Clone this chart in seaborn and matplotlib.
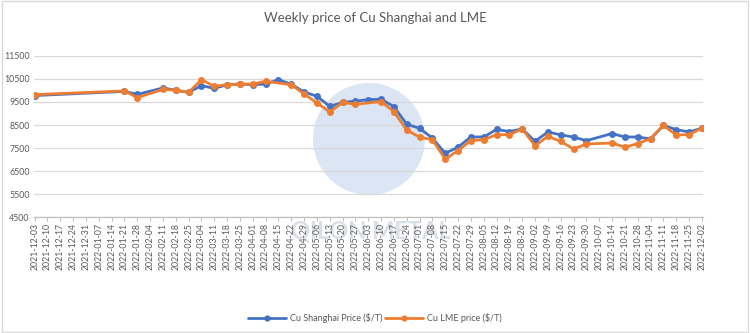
import numpy as np
import pandas as pd
import matplotlib
matplotlib.use("Agg")
import matplotlib.pyplot as plt
import seaborn as sns
from matplotlib.lines import Line2D
from matplotlib.patches import Rectangle, Circle

# ---- data ----
week_labels = list(pd.date_range("2021-12-03", "2022-12-02", freq="7D").strftime("%Y-%m-%d"))

shanghai = [9780, None, None, None, None, None, None, 9960, 9830, None,
            10110, 10010, 9920, 10210, 10090, 10250, 10280, 10250, 10280, 10470,
            10270, 9935, 9750, 9310, 9480, 9540, 9600, 9620, 9300, 8530,
            8360, 7930, 7270, 7540, 7985, 7980, 8310, 8215, 8330, 7790,
            8200, 8070, 7980, 7820, None, 8130, 7980, 7980, 7895, 8480,
            8300, 8200, 8360]

lme = [9820, None, None, None, None, None, None, 9980, 9690, None,
       10050, 10010, 9920, 10470, 10180, 10250, 10280, 10280, 10400, None,
       10250, 9850, 9460, 9065, 9480, 9400, None, 9520, 9080, 8280,
       7975, 7860, 7020, 7390, 7825, 7860, 8080, 8080, 8330, 7600,
       8010, 7790, 7460, 7675, None, 7720, 7540, 7690, 7910, 8480,
       8070, 8080, 8360]

series_names = ["Cu Shanghai Price ($/T)", "Cu LME price ($/T)"]
colors = ["#4472C4", "#ED7D31"]
y_ticks = [4500, 5500, 6500, 7500, 8500, 9500, 10500, 11500]

# ---- build frame ----
dates = pd.to_datetime(week_labels)
frames = []
for name, vals in zip(series_names, [shanghai, lme]):
    frames.append(pd.DataFrame({"date": dates, "price": vals, "series": name}))
df = pd.concat(frames, ignore_index=True).dropna()
df["price"] = df["price"].astype(float)

sns.set_theme(style="white")
plt.rcParams["font.family"] = ["Lato", "DejaVu Sans"]

fig = plt.figure(figsize=(7.5, 3.33), dpi=100)
ax = fig.add_axes([0.045, 0.348, 0.892, 0.484])

# watermark (decorative logo)
wm = Circle((369, 333 - 139), 56, transform=None, facecolor="#C3D5EC",
            edgecolor="none", alpha=0.6, zorder=0.3)
ax.add_artist(wm)
wm.set_clip_on(False)
ax.text(0.495, 0.305, "QILON METAL", transform=fig.transFigure, ha="center", va="center",
        fontsize=17, fontweight="bold", color="#B6BFD0", alpha=0.5, zorder=0.4, clip_on=False)

sns.lineplot(data=df, x="date", y="price", hue="series", hue_order=series_names,
             palette=colors, marker="o", markersize=5, markeredgewidth=0,
             linewidth=2.0, ax=ax, legend=False, sort=True, zorder=3)

ax.set_xlim(dates[0] - pd.Timedelta(days=0.5), dates[-1] + pd.Timedelta(days=0.5))
ax.set_ylim(4500, 11500)
ax.set_yticks(y_ticks)
ax.set_yticklabels([str(v) for v in y_ticks], fontsize=6.3, color="#595959")
ax.set_xticks(dates)
ax.set_xticklabels(week_labels, rotation=90, fontsize=6.3, color="#595959")
ax.grid(axis="y", color="#D9D9D9", linewidth=0.9)
ax.grid(axis="x", visible=False)
for s in ["top", "right", "left"]:
    ax.spines[s].set_visible(False)
ax.spines["bottom"].set_color("#BFBFBF")
ax.spines["bottom"].set_linewidth(0.9)
ax.tick_params(axis="x", length=3, width=0.7, color="#BFBFBF", pad=1, direction="out", bottom=True)
ax.tick_params(axis="y", length=0, pad=3)
ax.set_xlabel("")
ax.set_ylabel("")

fig.suptitle("Weekly price of Cu Shanghai and LME", y=0.965, fontsize=9.5, color="#595959")

handles = [Line2D([0], [0], color=c, linewidth=2.0, marker="o", markersize=4.5,
                  markeredgewidth=0) for c in colors]
fig.legend(handles, series_names, loc="center", bbox_to_anchor=(0.5, 0.045), ncol=2,
           frameon=False, fontsize=6.5, handlelength=4.2, columnspacing=0.3,
           handletextpad=0.4, labelcolor="#595959")

fig.patches.append(Rectangle((0.002, 0.003), 0.995, 0.993, transform=fig.transFigure,
                             fill=False, edgecolor="#D9D9D9", linewidth=1))

fig.savefig("out.png", dpi=100)
